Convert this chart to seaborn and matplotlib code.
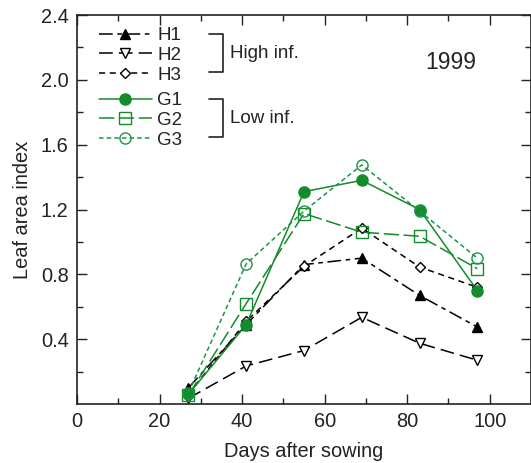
import numpy as np
import pandas as pd
import matplotlib
matplotlib.use("Agg")
import matplotlib.pyplot as plt
from matplotlib.lines import Line2D
import seaborn as sns

days = [27, 41, 55, 69, 83, 97]
h1 = [0.10, 0.49, 0.86, 0.90, 0.67, 0.475]
h2 = [0.035, 0.235, 0.33, 0.535, 0.375, 0.27]
h3 = [0.06, 0.51, 0.85, 1.085, 0.845, 0.72]
g1 = [0.06, 0.49, 1.31, 1.38, 1.20, 0.70]
g2 = [0.055, 0.62, 1.175, 1.06, 1.035, 0.835]
g3 = [0.07, 0.865, 1.19, 1.475, 1.19, 0.90]
names = ["H1", "H2", "H3", "G1", "G2", "G3"]
groups = ["High inf.", "Low inf."]
year = "1999"

sns.set_style("ticks")
plt.rcParams['font.family'] = ['Liberation Sans', 'DejaVu Sans']

GREEN = '#138a2c'
GREEN3 = '#1c9448'
INK = '#222222'
styles = {
    "H1": dict(color='black', marker='^', mfc='black', ms=6.5, ls=(0, (9, 3, 3, 3))),
    "H2": dict(color='black', marker='v', mfc='white', ms=7, ls=(0, (9, 4))),
    "H3": dict(color='black', marker='D', mfc='white', ms=5, ls=(0, (4, 3))),
    "G1": dict(color=GREEN, marker='o', mfc=GREEN, ms=8, ls='-'),
    "G2": dict(color=GREEN, marker='s', mfc='none', ms=8, ls=(0, (10, 3))),
    "G3": dict(color=GREEN3, marker='o', mfc='none', ms=8, ls=(0, (3, 2))),
}
series = {"H1": h1, "H2": h2, "H3": h3, "G1": g1, "G2": g2, "G3": g3}

fig = plt.figure(figsize=(5.31, 4.63), dpi=100)
ax = fig.add_axes([77/531, 1-404/463, 454/531, 389/463])

for n in names:
    s = styles[n]
    df = pd.DataFrame({"x": days, "y": series[n]})
    sns.lineplot(data=df, x="x", y="y", ax=ax, color=s['color'], marker=s['marker'],
                 markersize=s['ms'], markerfacecolor=s['mfc'], markeredgecolor=s['color'],
                 markeredgewidth=1.0, linestyle=s['ls'], linewidth=1.1, legend=False)

ax.set_xlim(0, 110)
ax.set_ylim(0, 2.4)
ax.set_xticks([0, 20, 40, 60, 80, 100])
ax.set_xticks(np.arange(10, 110, 20), minor=True)
ax.set_yticks([0.4, 0.8, 1.2, 1.6, 2.0, 2.4])
ax.set_yticklabels(["0.4", "0.8", "1.2", "1.6", "2.0", "2.4"])
ax.set_yticks(np.arange(0.2, 2.4, 0.4), minor=True)
ax.tick_params(which='both', direction='in', top=True, right=True, colors=INK,
               labelsize=14.4, width=1.0)
ax.tick_params(which='major', length=7, pad=6)
ax.tick_params(which='minor', length=4)
for sp in ax.spines.values():
    sp.set_linewidth(1.2)
    sp.set_color(INK)
ax.set_xlabel("Days after sowing", fontsize=14.4, color=INK, labelpad=8)
ax.set_ylabel("Leaf area index", fontsize=14.4, color=INK, labelpad=6)

def make_handles(ns):
    hs = []
    for n in ns:
        s = styles[n]
        hs.append(Line2D([], [], color=s['color'], marker=s['marker'], markersize=s['ms'],
                         markerfacecolor=s['mfc'], markeredgecolor=s['color'],
                         linestyle=s['ls'], linewidth=1.1))
    return hs

leg_kw = dict(frameon=False, loc='upper left', fontsize=13.5, handlelength=2.8,
              handletextpad=0.3, labelspacing=0.14, borderpad=0, borderaxespad=0)
l1 = ax.legend(make_handles(names[:3]), names[:3],
               bbox_to_anchor=((99-77)/454, 1-(27-15)/389), **leg_kw)
for t in l1.get_texts():
    t.set_color(INK)
ax.add_artist(l1)
l2 = ax.legend(make_handles(names[3:]), names[3:],
               bbox_to_anchor=((99-77)/454, 1-(92-15)/389), **leg_kw)
for t in l2.get_texts():
    t.set_color(INK)

def px(x, y):
    return ((x-77)/454, 1-(y-15)/389)

for (y0, y1, lab) in [(34, 72, groups[0]), (99, 137, groups[1])]:
    pts = [px(209, y0), px(223, y0), px(223, y1), px(209, y1)]
    ax.plot([p[0] for p in pts], [p[1] for p in pts], transform=ax.transAxes,
            color=INK, lw=1.2, clip_on=False)
    tx, ty = px(230, (y0+y1)/2)
    ax.text(tx, ty, lab, transform=ax.transAxes, fontsize=13.5, va='center', ha='left',
            color=INK)

tx, ty = px(476, 62)
ax.text(tx, ty, year, transform=ax.transAxes, fontsize=16.5, va='center', ha='right',
        color=INK)

fig.savefig("out.png", dpi=100)
